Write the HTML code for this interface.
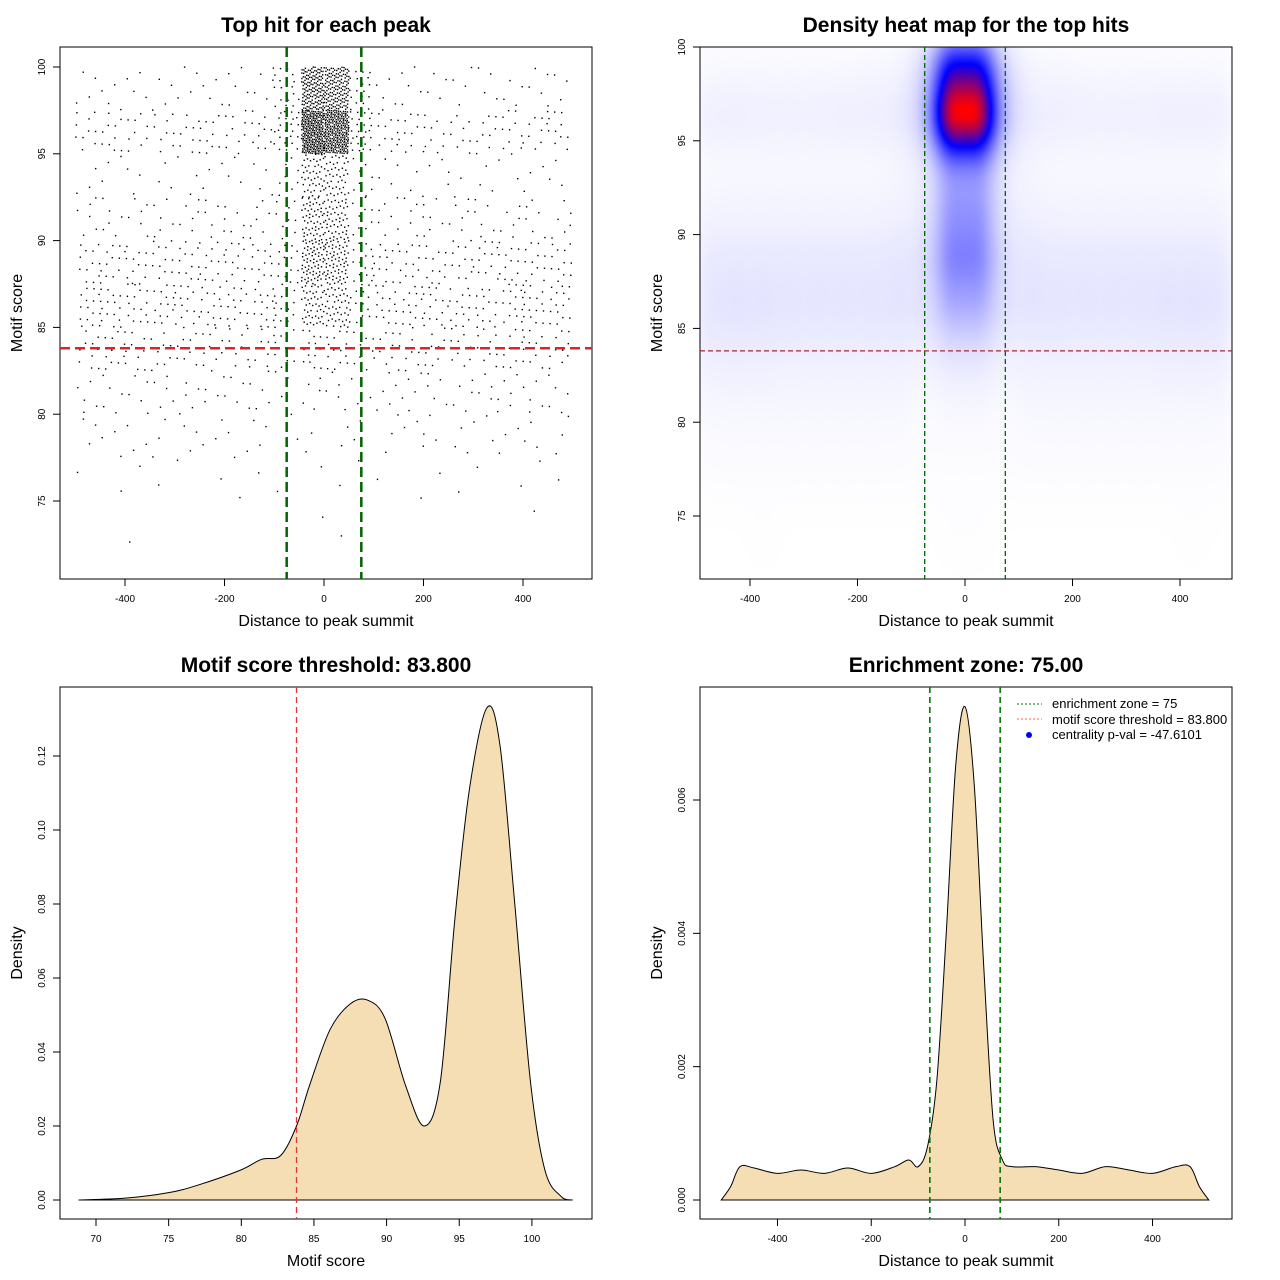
<!DOCTYPE html>
<html><head><meta charset="utf-8">
<style>
html,body{margin:0;padding:0;background:#fff;}
#wrap{position:relative;width:1280px;height:1280px;overflow:hidden;}
#heat{position:absolute;left:700px;top:47px;width:532px;height:532px;}
#svg{position:absolute;left:0;top:0;}
text{font-family:"Liberation Sans",sans-serif;fill:#000;}
</style></head><body>
<div id="wrap">
<canvas id="heat" width="266" height="266"></canvas>
<svg id="svg" width="1280" height="1280" xmlns="http://www.w3.org/2000/svg"></svg>
</div>
<script>
// ---------- DATA ----------
const distBinStart = [-500,-450,-400,-350,-300,-250,-200,-150,-100,-50,0,50,100,150,200,250,300,350,400,450];
const scoreBinStart = [97.5,95,92.5,90,87.5,85,82.5,80,77.5,75,72.5];
const hitCounts = [
 [4,4,4,4,4,4,5,5,18,150,150,18,5,5,4,4,4,4,4,4],
 [10,10,9,9,9,10,10,11,25,260,260,25,11,10,9,9,9,10,10,10],
 [3,3,3,3,3,3,3,4,8,45,45,8,4,3,3,3,3,3,3,3],
 [6,6,6,6,6,6,6,7,9,55,55,9,7,6,6,6,6,6,6,6],
 [12,12,12,12,12,12,12,13,14,70,70,14,13,12,12,12,12,12,12,12],
 [15,15,15,14,14,14,14,15,14,45,45,14,15,14,14,14,14,15,15,15],
 [10,10,10,9,9,9,9,9,8,14,14,8,9,9,9,9,9,10,10,10],
 [5,5,5,5,5,5,5,5,3,5,5,3,5,5,5,5,5,5,5,5],
 [3,3,3,3,3,3,3,3,2,2,2,2,3,3,3,3,3,3,3,3],
 [1,1,1,1,1,1,1,1,1,1,1,1,1,1,1,1,1,1,1,1],
 [0,0,1,0,0,0,0,0,0,1,1,0,0,0,0,0,0,0,1,0]
];
const scoreGrid = [68.8,72,75,77,79.9,81.4,82.7,83.8,84.7,86.1,87.5,88.7,89.9,91.3,92.6,93.7,94.7,95.7,96.9,97.8,98.8,99.9,100.9,102,102.8];
const scoreDensity = [0,0.0005,0.002,0.004,0.008,0.011,0.012,0.02,0.031,0.046,0.053,0.054,0.049,0.031,0.02,0.032,0.076,0.111,0.133,0.123,0.081,0.032,0.008,0.001,0];
const distGrid = [-520,-500,-480,-450,-400,-350,-300,-250,-200,-150,-120,-100,-80,-60,-40,-20,0,20,40,60,80,100,150,200,250,300,350,400,450,480,500,520];
const distDensity = [0,0.0002,0.0005,0.00048,0.0004,0.00045,0.0004,0.00048,0.0004,0.0005,0.0006,0.0005,0.0008,0.0018,0.004,0.0065,0.0074,0.0062,0.0035,0.0012,0.0006,0.0005,0.0005,0.00045,0.0004,0.0005,0.00045,0.0004,0.0005,0.0005,0.0002,0];
const scoreThreshold = 83.8;
const enrichZone = 75;
const xTicksDist = [-400,-200,0,200,400];
const yTicksScore = [75,80,85,90,95,100];
const xTicksScore = [70,75,80,85,90,95,100];
const yTicksDens3 = [0,0.02,0.04,0.06,0.08,0.10,0.12];
const yTickLab3 = ["0.00","0.02","0.04","0.06","0.08","0.10","0.12"];
const yTicksDens4 = [0,0.002,0.004,0.006];
const yTickLab4 = ["0.000","0.002","0.004","0.006"];

// ---------- SCALES ----------
const x1=d=>324+d*0.4975, y1=s=>67+(100-s)*17.36;
const x2=d=>965+d*0.5375, y2=s=>47+(100-s)*18.76;
const x3=s=>96+(s-70)*14.53, y3=v=>1200-v*3700;
const x4=d=>965+d*0.4688, y4=v=>1200-v*66667;

const NS="http://www.w3.org/2000/svg";
const svg=document.getElementById('svg');
function mk(tag,attrs,parent){const e=document.createElementNS(NS,tag);for(const k in attrs)e.setAttribute(k,attrs[k]);(parent||svg).appendChild(e);return e;}
function txt(str,x,y,size,opts,parent){const t=mk('text',Object.assign({x:x,y:y,'font-size':size,'text-anchor':'middle'},opts||{}),parent);t.textContent=str;return t;}

function panel(name,bx,by,title,xlabel,ylabel,xt,xtl,xs,yt,ytl,ys){
  const g=mk('g',{});
  
  
  const t=txt(title,bx+266,by-15,21,{'font-weight':'bold'},g);
  
  
  const xl=txt(xlabel,bx+266,by+579,16,{},g);
  
  
  const yl=txt(ylabel,0,0,16,{transform:`translate(${bx-38},${by+266}) rotate(-90)`},g);
  
  
  const xa=mk('g',{},g);
  
  
  xt.forEach((v,i)=>{const X=xs(v);mk('line',{x1:X,x2:X,y1:by+532,y2:by+539,stroke:'#000'},xa);txt(xtl[i],X,by+555,10,{},xa);});
  const ya=mk('g',{},g);
  
  
  yt.forEach((v,i)=>{const Y=ys(v);mk('line',{x1:bx-7,x2:bx,y1:Y,y2:Y,stroke:'#000'},ya);txt(ytl[i],0,0,10,{transform:`translate(${bx-15},${Y}) rotate(-90)`},ya);});
  return g;
}

// ---------- PANEL 1: scatter ----------
panel('scatter-panel',60,47,'Top hit for each peak','Distance to peak summit','Motif score',xTicksDist,xTicksDist.map(String),x1,yTicksScore,yTicksScore.map(String),y1);
const pts=mk('g',{fill:'#000'});


let k=0;
hitCounts.forEach((row,r)=>row.forEach((n,c)=>{
  for(let i=0;i<n;i++){k++;
    const u=(k*0.7548776662+0.3)%1, v=(k*0.5698402910+0.6)%1;
    // center bins concentrate toward the summit
    let d;
    if(distBinStart[c]===-50) d=-45+u*45; else if(distBinStart[c]===0) d=u*50; else d=distBinStart[c]+u*50;
    const s=scoreBinStart[r]+v*2.5;
    mk('rect',{x:(x1(d)-0.7).toFixed(1),y:(y1(s)-0.7).toFixed(1),width:1.4,height:1.4},pts);
  }
}));
mk('rect',{x:60,y:47,width:532,height:532,fill:'none',stroke:'#000'});
let l=mk('line',{x1:60,x2:592,y1:y1(scoreThreshold),y2:y1(scoreThreshold),stroke:'#d62728','stroke-width':2.5,'stroke-dasharray':'10,5'});

[-enrichZone,enrichZone].forEach(z=>{const e=mk('line',{x1:x1(z),x2:x1(z),y1:47,y2:579,stroke:'#006400','stroke-width':2.5,'stroke-dasharray':'10,5'});
});

// ---------- PANEL 2: heatmap ----------
panel('heatmap-panel',700,47,'Density heat map for the top hits','Distance to peak summit','Motif score',xTicksDist,xTicksDist.map(String),x2,yTicksScore,yTicksScore.map(String),y2);
(function(){
  const cv=document.getElementById('heat'),ctx=cv.getContext('2d');
  const W=266,H=266,img=ctx.createImageData(W,H);
  const dens=new Float32Array(W*H);let mx=0;
  const sd=25,ss=1.4;
  for(let py=0;py<H;py++){const s=100-((py*2+1)/18.76);
    for(let px=0;px<W;px++){const d=((px*2+1)+700-965)/0.5375;let sum=0;
      for(let r=0;r<hitCounts.length;r++){const sc=scoreBinStart[r]+1.25;const ds=(s-sc)/ss;if(Math.abs(ds)>4)continue;const es=Math.exp(-0.5*ds*ds);
        for(let c=0;c<20;c++){const n=hitCounts[r][c];if(!n)continue;const dd=(d-(distBinStart[c]+25))/sd;if(Math.abs(dd)>4)continue;sum+=n*es*Math.exp(-0.5*dd*dd);}}
      dens[py*W+px]=sum;if(sum>mx)mx=sum;}}
  for(let i=0;i<W*H;i++){let t=Math.pow(dens[i]/mx,1.3);let r,g,b;
    if(t<0.5){const a=Math.pow(t/0.5,0.8);r=g=255*(1-a);b=255;}else{const a=(t-0.5)/0.5;r=255*a;g=0;b=255*(1-a);}
    img.data[i*4]=r;img.data[i*4+1]=g;img.data[i*4+2]=b;img.data[i*4+3]=255;}
  ctx.putImageData(img,0,0);
})();
mk('rect',{x:700,y:47,width:532,height:532,fill:'none',stroke:'#000'});
l=mk('line',{x1:700,x2:1232,y1:y2(scoreThreshold),y2:y2(scoreThreshold),stroke:'#b22234','stroke-width':1.3,'stroke-dasharray':'5,3'});

[-enrichZone,enrichZone].forEach(z=>{const e=mk('line',{x1:x2(z),x2:x2(z),y1:47,y2:579,stroke:'#006400','stroke-width':1.3,'stroke-dasharray':'5,3'});
});

function curvePath(xs,ys,xf,yf){
  const P=xs.map((x,i)=>[xf(x),yf(ys[i])]);let d=`M${P[0][0]},${P[0][1]}`;
  for(let i=0;i<P.length-1;i++){const p0=P[i-1]||P[i],p1=P[i],p2=P[i+1],p3=P[i+2]||p2;
    const c1=[p1[0]+(p2[0]-p0[0])/6,p1[1]+(p2[1]-p0[1])/6],c2=[p2[0]-(p3[0]-p1[0])/6,p2[1]-(p3[1]-p1[1])/6];
    d+=`C${c1[0]},${c1[1]} ${c2[0]},${c2[1]} ${p2[0]},${p2[1]}`;}
  return d;
}

// ---------- PANEL 3 ----------
panel('score-density-panel',60,687,'Motif score threshold: 83.800','Motif score','Density',xTicksScore,xTicksScore.map(String),x3,yTicksDens3,yTickLab3,y3);
let pd=curvePath(scoreGrid,scoreDensity,x3,y3);
let a=mk('path',{d:pd+'Z',fill:'#f5deb3',stroke:'#000','stroke-width':1});

mk('rect',{x:60,y:687,width:532,height:532,fill:'none',stroke:'#000'});
l=mk('line',{x1:x3(scoreThreshold),x2:x3(scoreThreshold),y1:687,y2:1219,stroke:'#e0353b','stroke-width':1.3,'stroke-dasharray':'6,4'});


// ---------- PANEL 4 ----------
panel('distance-density-panel',700,687,'Enrichment zone: 75.00','Distance to peak summit','Density',xTicksDist,xTicksDist.map(String),x4,yTicksDens4,yTickLab4,y4);
pd=curvePath(distGrid,distDensity,x4,y4);
a=mk('path',{d:pd+'Z',fill:'#f5deb3',stroke:'#000','stroke-width':1});

mk('rect',{x:700,y:687,width:532,height:532,fill:'none',stroke:'#000'});
[-enrichZone,enrichZone].forEach(z=>{const e=mk('line',{x1:x4(z),x2:x4(z),y1:687,y2:1219,stroke:'#007a00','stroke-width':1.6,'stroke-dasharray':'6,4'});
});
const lg=mk('g',{});


mk('line',{x1:1017,x2:1042,y1:704,y2:704,stroke:'#006400','stroke-dasharray':'2,2'},lg);
mk('line',{x1:1017,x2:1042,y1:719,y2:719,stroke:'#ff6666','stroke-dasharray':'2,2'},lg);
mk('circle',{cx:1029,cy:735,r:3,fill:'#0000ff'},lg);
txt('enrichment zone = 75',1052,708,13,{'text-anchor':'start'},lg);
txt('motif score threshold = 83.800',1052,724,13,{'text-anchor':'start'},lg);
txt('centrality p-val = -47.6101',1052,739,13,{'text-anchor':'start'},lg);
</script>
</body></html>
